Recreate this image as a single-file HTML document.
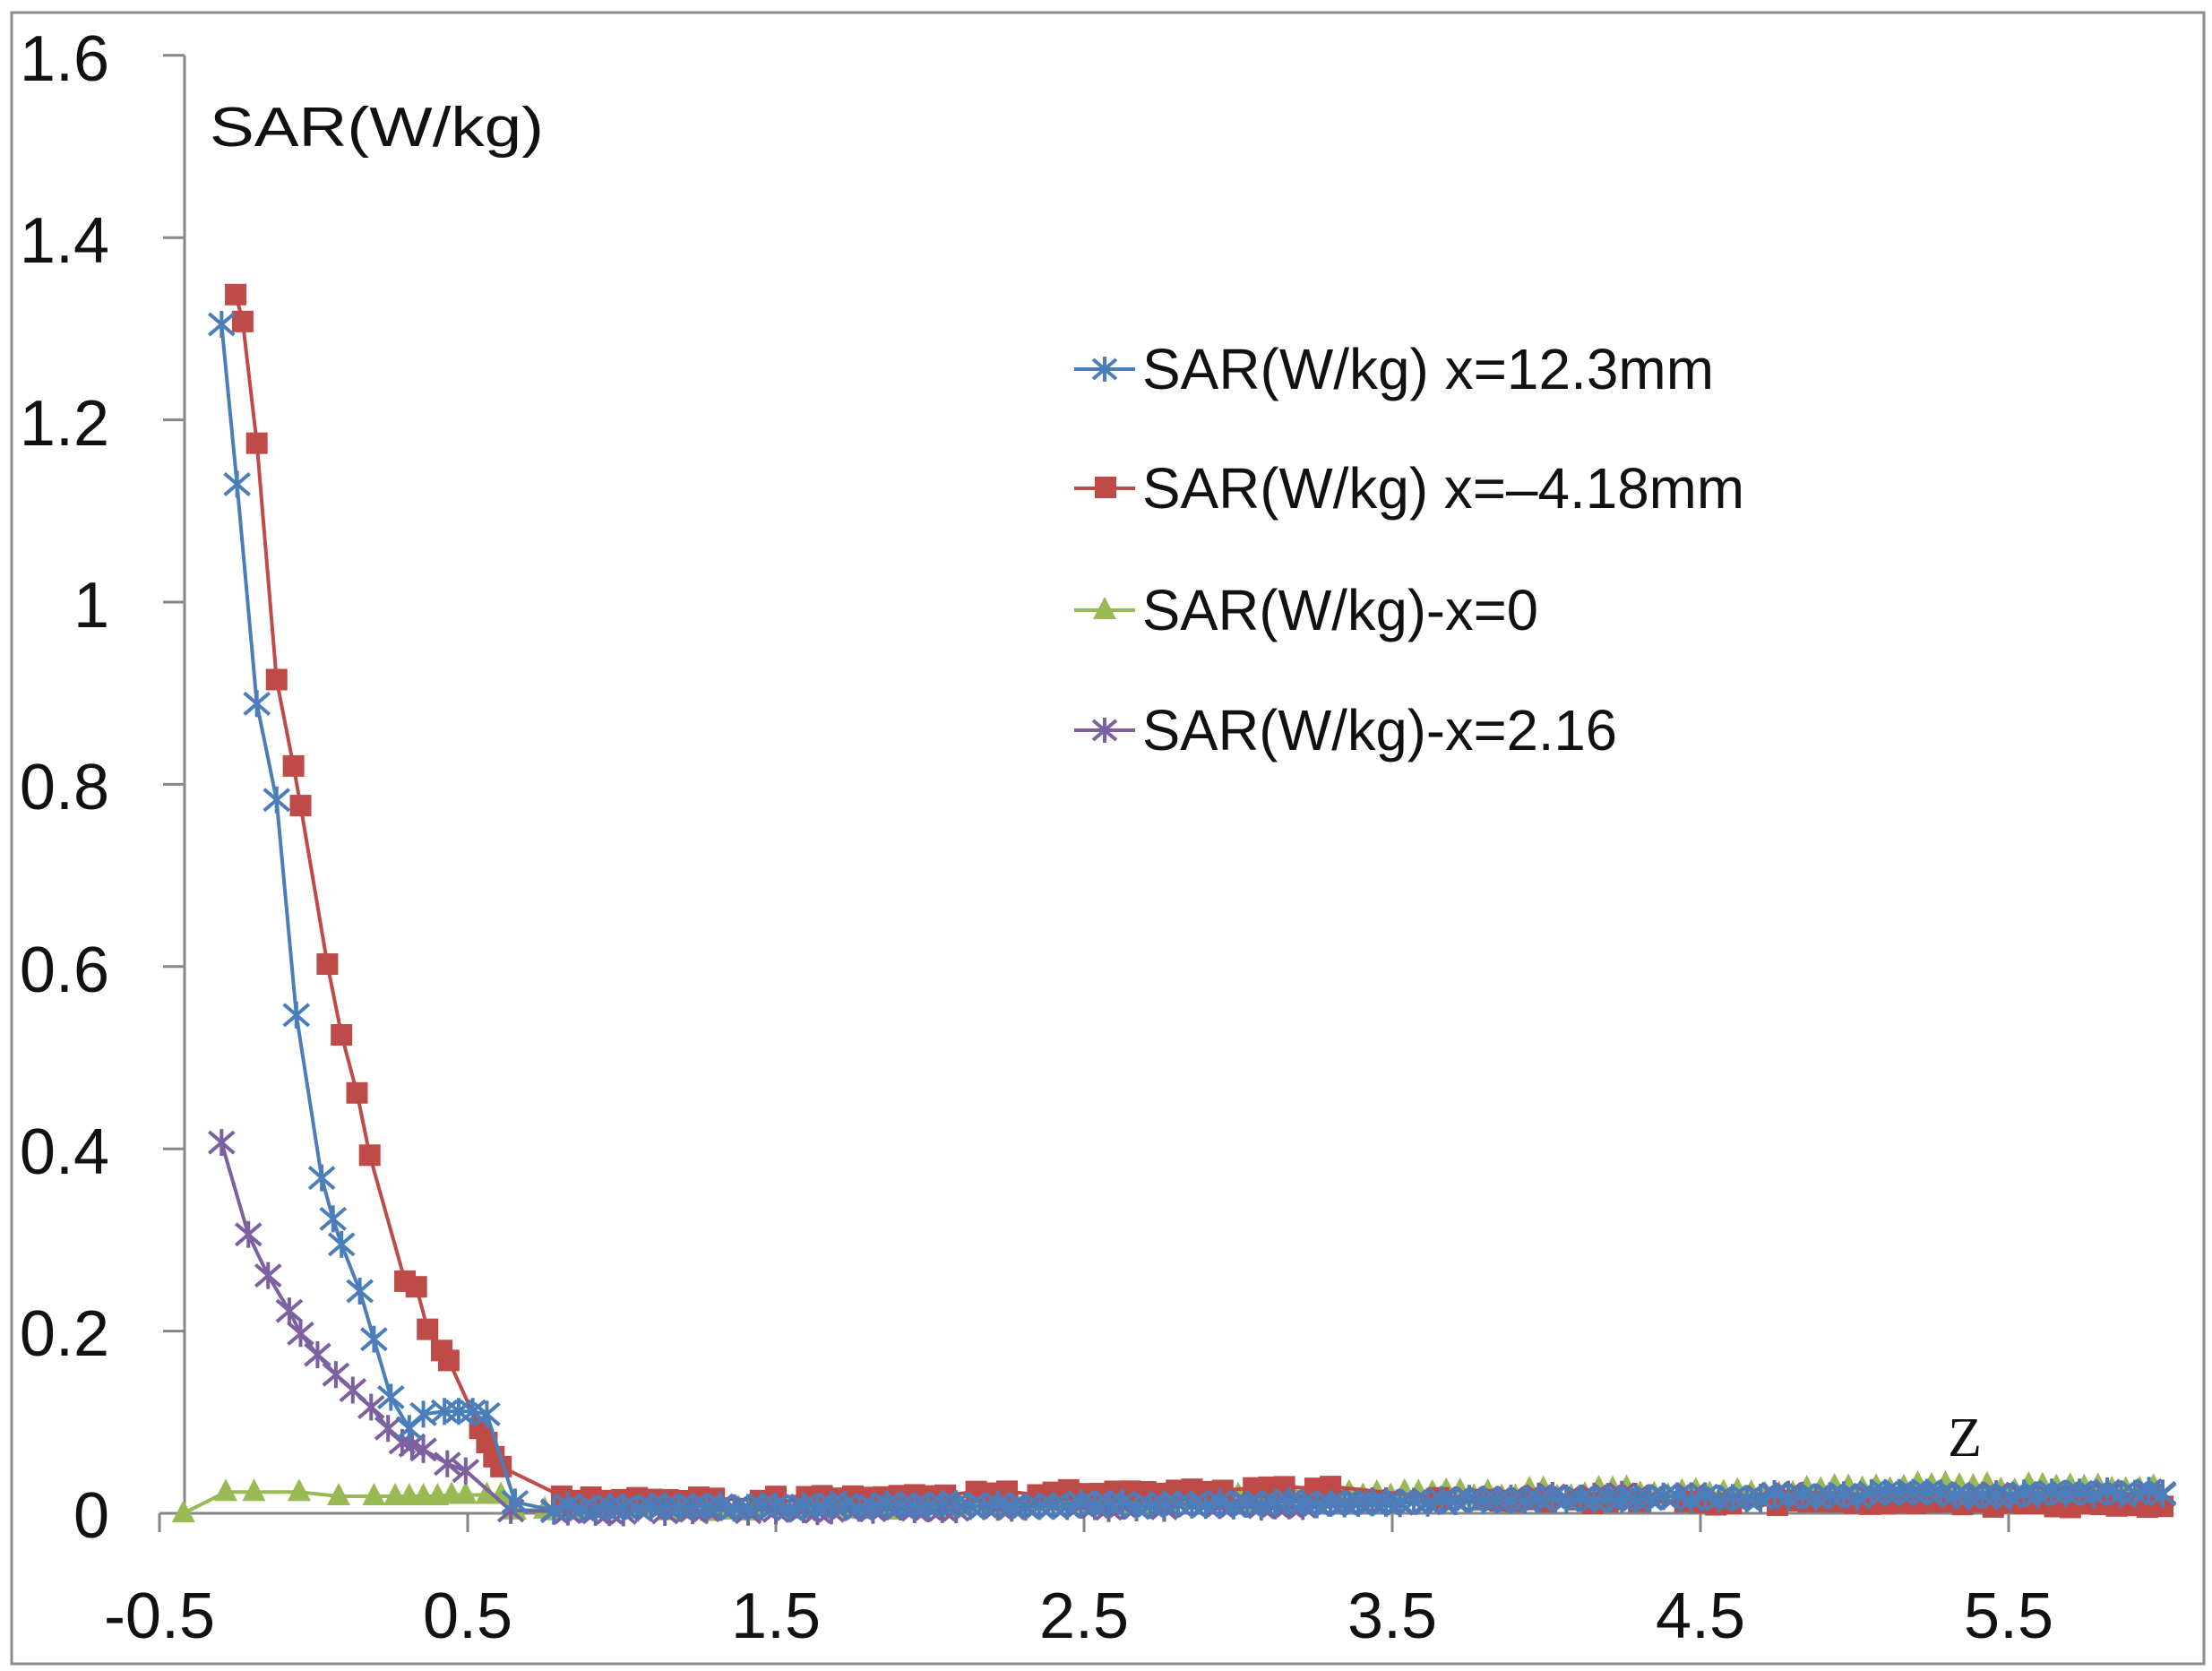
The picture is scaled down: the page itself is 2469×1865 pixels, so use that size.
<!DOCTYPE html>
<html><head><meta charset="utf-8">
<style>
html,body{margin:0;padding:0;background:#fff;}
svg{display:block;}
text{font-family:"Liberation Sans",sans-serif;fill:#111;}
</style></head>
<body>
<svg id="s" width="2469" height="1865" viewBox="0 0 2469 1865" xmlns="http://www.w3.org/2000/svg">
<rect x="0" y="0" width="2469" height="1865" fill="#fff"/>
<rect x="13" y="14" width="2447" height="1843" fill="none" stroke="#8c8c8c" stroke-width="3"/>
<g id="axes" stroke="#868686" stroke-width="3">
<line x1="206" y1="62" x2="206" y2="1689"/>
<line x1="178" y1="1689" x2="2416" y2="1689"/>
</g>
<g font-size="72" text-anchor="end">
<text x="122" y="90">1.6</text>
<text x="122" y="293">1.4</text>
<text x="122" y="497">1.2</text>
<text x="122" y="700">1</text>
<text x="122" y="903">0.8</text>
<text x="122" y="1107">0.6</text>
<text x="122" y="1310">0.4</text>
<text x="122" y="1513">0.2</text>
<text x="122" y="1716">0</text>
</g>
<g font-size="72" text-anchor="middle">
<text x="178" y="1828">-0.5</text>
<text x="522" y="1828">0.5</text>
<text x="866" y="1828">1.5</text>
<text x="1210" y="1828">2.5</text>
<text x="1554" y="1828">3.5</text>
<text x="1898" y="1828">4.5</text>
<text x="2242" y="1828">5.5</text>
</g>
<text x="234" y="163" font-size="62" textLength="373" lengthAdjust="spacingAndGlyphs">SAR(W/kg)</text>
<text x="2193" y="1625" font-size="62" text-anchor="middle" style="font-family:'Liberation Serif',serif">Z</text>
<g id="series"></g>
<g id="legend">
<line x1="1199" y1="412" x2="1267" y2="412" stroke="#4a7ebb" stroke-width="4"/>
<line x1="1199" y1="545" x2="1267" y2="545" stroke="#be4b48" stroke-width="4"/>
<rect x="1222" y="532" width="24" height="24" fill="#be4b48"/>
<line x1="1199" y1="681" x2="1267" y2="681" stroke="#98b954" stroke-width="4"/>
<polygon points="1233,666 1246,691 1220,691" fill="#98b954"/>
<line x1="1199" y1="815" x2="1267" y2="815" stroke="#7d60a0" stroke-width="4"/>
<text x="1275" y="434" font-size="64" textLength="638" lengthAdjust="spacingAndGlyphs">SAR(W/kg) x=12.3mm</text>
<text x="1275" y="567" font-size="64" textLength="672" lengthAdjust="spacingAndGlyphs">SAR(W/kg) x=–4.18mm</text>
<text x="1275" y="703" font-size="64" textLength="442" lengthAdjust="spacingAndGlyphs">SAR(W/kg)-x=0</text>
<text x="1275" y="837" font-size="64" textLength="530" lengthAdjust="spacingAndGlyphs">SAR(W/kg)-x=2.16</text>
</g>
</svg>
<script>
(function(){
var NS="http://www.w3.org/2000/svg";
function X(z){return 178+(z+0.5)*344;}
function Y(v){return 1689-v*1017;}
var seed=7;function rnd(){seed=(seed*16807)%2147483647;return seed/2147483647;}
function lerp(pts,z){for(var i=0;i<pts.length-1;i++){if(z<=pts[i+1][0]){var t=(z-pts[i][0])/(pts[i+1][0]-pts[i][0]);return pts[i][1]+t*(pts[i+1][1]-pts[i][1]);}}return pts[pts.length-1][1];}
function D(px,py){return [(px-113)/218.4-0.5,(1070-py)/643.75];}
var blue=[[157,230],[168,343],[182,498],[196,566],[210,718],[228,833],[236,862],[242,880],[255,913],[265,947],[277,988],[290,1010],[300,1000],[315,998],[325,998],[335,998],[345,1000],[365,1062]].map(function(p){return D(p[0],p[1]);});
var red=[[167,209],[172,228],[182,314],[196,481],[208,542],[213,570],[232,682],[242,732],[253,773],[262,817],[287,906],[295,910],[303,940],[313,955],[318,962],[340,1010],[345,1020],[350,1030],[355,1037],[398,1058]].map(function(p){return D(p[0],p[1]);});
var purple=[[157,808],[176,873],[190,902],[205,927],[213,943],[225,958],[238,972],[250,983],[263,995],[275,1010],[285,1020],[292,1022],[300,1025],[317,1035],[330,1040],[362,1068]].map(function(p){return D(p[0],p[1]);});
var green=[[130,1070],[160,1055],[180,1055],[212,1055],[240,1058],[265,1058],[280,1058],[290,1058],[300,1058],[310,1058],[320,1057],[330,1057],[345,1057],[355,1057],[365,1068]].map(function(p){return D(p[0],p[1]);});
function tail(arr,z0,prof,step,jit,skip){for(var z=z0;z<=6.0001;z+=step){if(skip&&skip(z))continue;arr.push([z,lerp(prof,z)+(rnd()-0.5)*jit]);}}
tail(blue,0.78,[[0.7,0.006],[2,0.008],[3.5,0.012],[5,0.02],[6,0.023]],0.045,0.006);
tail(red,0.85,[[0.8,0.017],[1.6,0.016],[2.0,0.02],[2.6,0.024],[3.3,0.027],[3.4,0.015],[4.5,0.012],[6,0.008]],0.05,0.006,function(z){return rnd()<0.2;});
tail(green,0.75,[[0.7,0.005],[2.0,0.008],[3.5,0.02],[5,0.027],[6,0.031]],0.045,0.01);
tail(purple,0.78,[[0.7,0.003],[2.5,0.006],[3.5,0.012],[4,0.018],[6,0.02]],0.045,0.006);
var g=document.getElementById('series');
function el(n,a){var e=document.createElementNS(NS,n);for(var k in a)e.setAttribute(k,a[k]);g.appendChild(e);return e;}
function line(pts,c){el('polyline',{points:pts.map(function(p){return X(p[0]).toFixed(1)+','+Y(p[1]).toFixed(1);}).join(' '),fill:'none',stroke:c,'stroke-width':4});}
function star(pts,c){pts.forEach(function(p){var x=X(p[0]),y=Y(p[1]);el('path',{d:'M'+(x-14)+','+(y-12)+'L'+(x+14)+','+(y+12)+'M'+(x-14)+','+(y+12)+'L'+(x+14)+','+(y-12)+'M'+x+','+(y-15)+'L'+x+','+(y+15),stroke:c,'stroke-width':4,fill:'none'});});}
function sq(pts,c){pts.forEach(function(p){el('rect',{x:X(p[0])-12,y:Y(p[1])-12,width:24,height:24,fill:c});});}
function tri(pts,c){pts.forEach(function(p){var x=X(p[0]),y=Y(p[1]);el('polygon',{points:x+','+(y-15)+' '+(x+13)+','+(y+10)+' '+(x-13)+','+(y+10),fill:c});});}
line(green,'#98b954');tri(green,'#98b954');
line(purple,'#7d60a0');star(purple,'#7d60a0');
line(red,'#be4b48');sq(red,'#be4b48');
line(blue,'#4a7ebb');star(blue,'#4a7ebb');
var ax=document.getElementById('axes');
for(var i=0;i<=8;i++){var l=document.createElementNS(NS,'line');var y=1689-i*203.4;l.setAttribute('x1',182);l.setAttribute('x2',206);l.setAttribute('y1',y);l.setAttribute('y2',y);ax.appendChild(l);}
for(var j=0;j<=6;j++){var l2=document.createElementNS(NS,'line');var x=178+j*344;l2.setAttribute('x1',x);l2.setAttribute('x2',x);l2.setAttribute('y1',1689);l2.setAttribute('y2',1710);ax.appendChild(l2);}
var lg=document.getElementById('legend');
[[1233,412,'#4a7ebb'],[1233,815,'#7d60a0']].forEach(function(m){var p=document.createElementNS(NS,'path');var x=m[0],y=m[1];p.setAttribute('d','M'+(x-13)+','+(y-11)+'L'+(x+13)+','+(y+11)+'M'+(x-13)+','+(y+11)+'L'+(x+13)+','+(y-11)+'M'+x+','+(y-14)+'L'+x+','+(y+14));p.setAttribute('stroke',m[2]);p.setAttribute('stroke-width',4);lg.appendChild(p);});
})();
</script>
</body></html>
